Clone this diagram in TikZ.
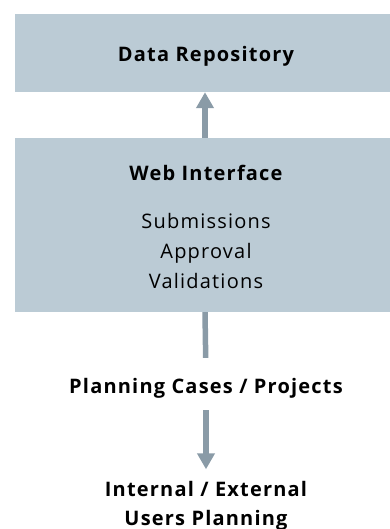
\documentclass[tikz,border=0pt]{standalone}
\usepackage{fontspec}
\setmainfont{Open Sans}[LetterSpace=6]
\usetikzlibrary{arrows.meta}
\definecolor{boxblue}{HTML}{BBCBD5}
\definecolor{arrowgrey}{HTML}{8A9BA7}

\tikzset{
  block/.style={fill=boxblue, draw=none, minimum width=380pt, inner sep=0pt},
  label/.style={align=center, inner sep=0pt, anchor=base, font=\fontsize{20}{30}\selectfont},
  flow/.style={draw=arrowgrey, line width=5.5pt},
  flowtip/.style={flow, -{Triangle[width=17pt,length=16pt]}}
}

\begin{document}
\begin{tikzpicture}[x=1pt, y=-1pt]
\useasboundingbox (0,0) rectangle (390,529);
% boxes
\node[block, minimum height=78pt] (repo) at (205,53) {};
\node[block, minimum height=174pt] (web) at (205,225) {};
\node[label] (repotitle) at (206,61.7) {\bfseries Data Repository};
\node[label] (webtitle) at (206,181) {\bfseries Web Interface};
\node[label] (tasks) at (206,288) {Submissions\\Approval\\Validations};
% text below
\node[label] (plan) at (206,393.3) {\bfseries Planning Cases / Projects};
\node[label, font=\fontsize{20}{28.3}\selectfont] (users) at (206,525)
  {\bfseries Internal / External\\\bfseries Users Planning};
% connectors
\draw[flowtip] (web.north) -- (repo.south);
\draw[flow, shorten >=20pt] (web.south) -- (plan.north);
\draw[flowtip, shorten <=12pt, shorten >=12pt] (plan.south) -- (users.north);
\end{tikzpicture}
\end{document}
